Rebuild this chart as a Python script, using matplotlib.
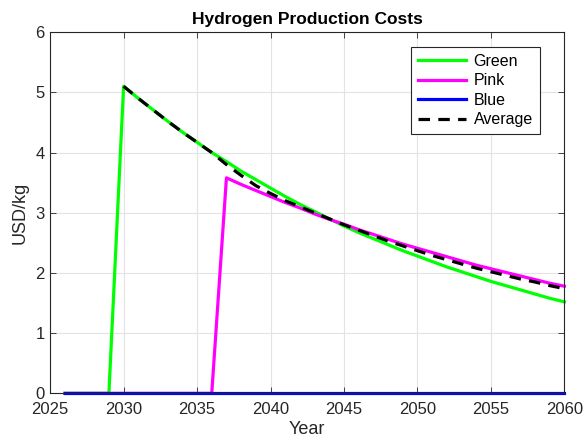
import numpy as np
import matplotlib
matplotlib.use("Agg")
import matplotlib.pyplot as plt

plt.rcParams['font.family'] = ['Liberation Sans', 'DejaVu Sans']

# years 2026..2060
years = list(range(2026, 2061))

# cost curves (USD/kg)
green = [0, 0, 0, 0,
         5.10, 4.90, 4.71, 4.52, 4.34, 4.17, 4.00, 3.85, 3.69, 3.55,
         3.41, 3.27, 3.14, 3.02, 2.90, 2.78, 2.67, 2.57, 2.47, 2.37,
         2.28, 2.19, 2.10, 2.02, 1.94, 1.86, 1.79, 1.72, 1.65, 1.58, 1.52]
pink = [0, 0, 0, 0, 0, 0, 0, 0, 0, 0, 0,
        3.58, 3.47, 3.37, 3.27, 3.17, 3.08, 2.98, 2.89, 2.81, 2.72,
        2.64, 2.56, 2.48, 2.41, 2.34, 2.27, 2.20, 2.13, 2.07, 2.01,
        1.95, 1.89, 1.83, 1.78]
blue = [0] * 35
average = [np.nan, np.nan, np.nan, np.nan,
           5.10, 4.90, 4.71, 4.52, 4.34, 4.17, 4.00,
           3.80, 3.62, 3.45, 3.32, 3.20, 3.10, 3.00, 2.90, 2.80, 2.71,
           2.62, 2.53, 2.45, 2.37, 2.29, 2.22, 2.15, 2.08, 2.02, 1.96,
           1.90, 1.85, 1.79, 1.74]

fig = plt.figure(figsize=(5.83, 4.46), dpi=100)
ax = fig.add_axes([0.086, 0.118, 0.882, 0.81])

lw = 2.3
ax.plot(years, green, color=(0, 1, 0), lw=lw, label='Green', clip_on=False)
ax.plot(years, pink, color=(1, 0, 1), lw=lw, label='Pink', clip_on=False)
ax.plot(years, blue, color=(0, 0, 1), lw=lw, label='Blue', clip_on=False)
ax.plot(years, average, color='black', lw=lw, ls=(0, (3.6, 2.6)),
        label='Average', clip_on=False)

ax.set_xlim(2025, 2060)
ax.set_ylim(0, 6)
ax.set_xticks(range(2025, 2061, 5))
ax.set_yticks(range(0, 7))

axcol = '#262626'
ax.grid(True, color='#e3e3e3', lw=0.8)
ax.set_axisbelow(True)
for s in ax.spines.values():
    s.set_color(axcol)
    s.set_linewidth(0.8)
ax.tick_params(direction='in', length=4, width=0.6, top=True, right=True,
               labelsize=12, colors=axcol)
ax.tick_params(axis='x', pad=6)
ax.tick_params(axis='y', pad=4)

ax.set_xlabel('Year', fontsize=13, color=axcol, labelpad=3)
ax.set_ylabel('USD/kg', fontsize=13, color=axcol, labelpad=5)
ax.set_title('Hydrogen Production Costs', fontsize=12.5, fontweight='bold',
             pad=6)

leg = ax.legend(loc='upper right', bbox_to_anchor=(0.953, 0.96),
                borderaxespad=0, fontsize=11.5, handlelength=3.0,
                handletextpad=0.5, borderpad=0.45, labelspacing=0.28,
                fancybox=False, framealpha=1)
leg.get_frame().set_edgecolor(axcol)
leg.get_frame().set_linewidth(0.8)

fig.savefig('out.png', dpi=100)
